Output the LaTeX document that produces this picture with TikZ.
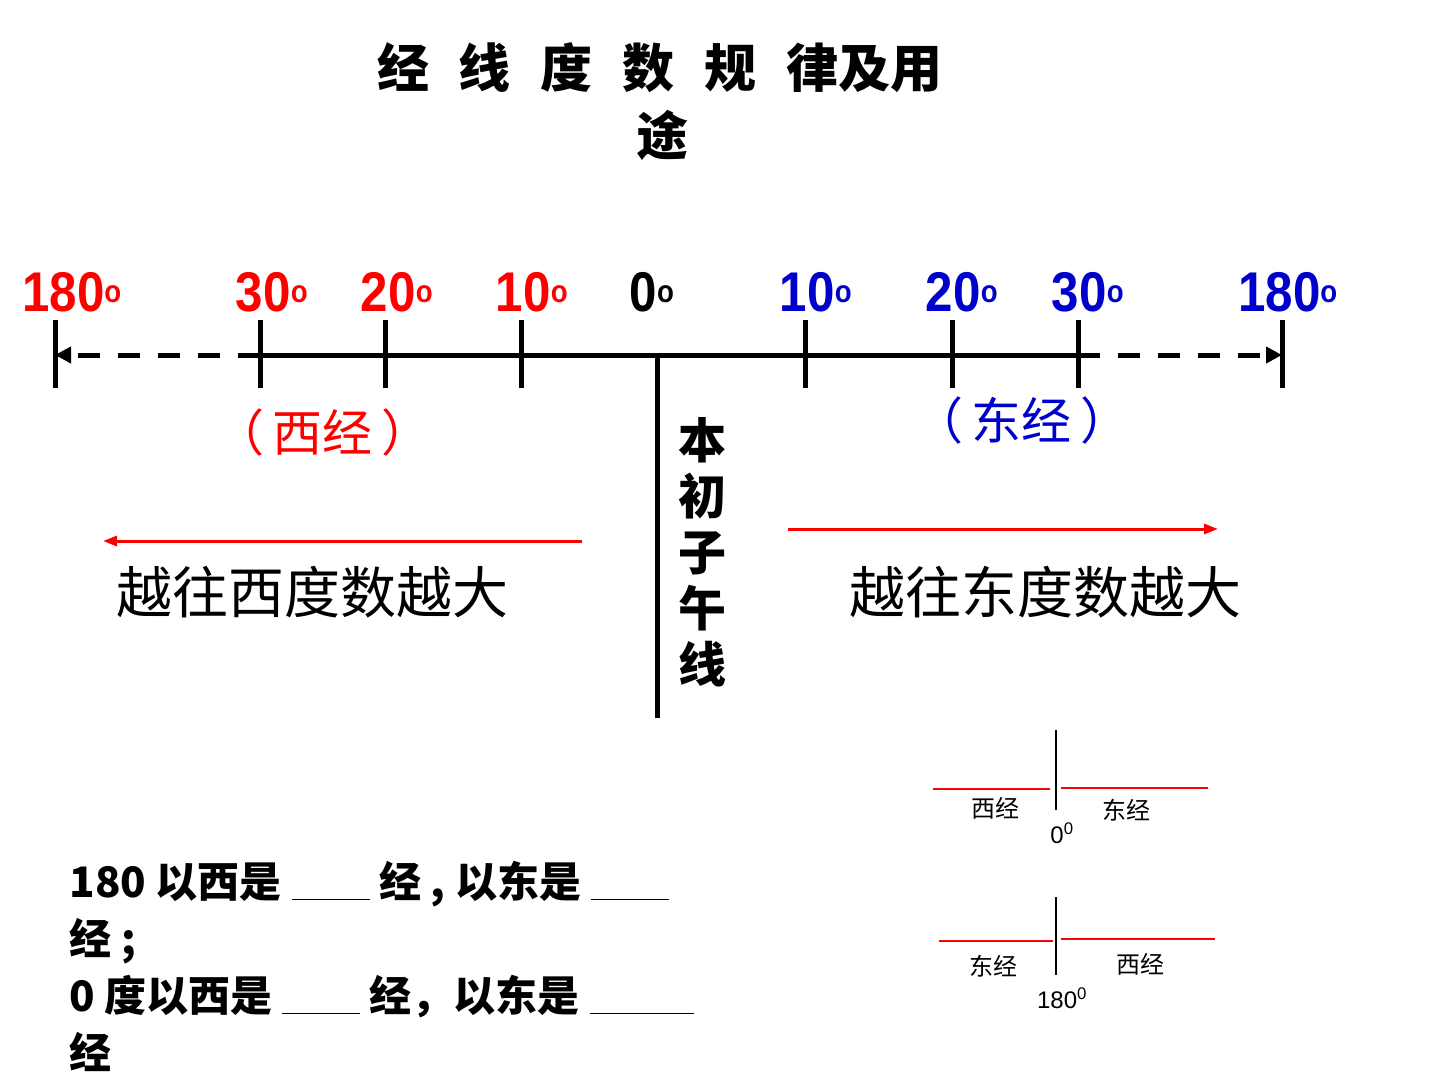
\documentclass[tikz,border=0pt]{standalone}
\usepackage{fontspec}
\setmainfont{Liberation Sans}
\newfontfamily\cjk{Noto Sans CJK SC}
\newcommand{\cjkb}{\cjk\bfseries}
\usetikzlibrary{arrows.meta}

\newcommand{\degmark}{\textsuperscript{\scalebox{0.8}{o}}}
\newcommand{\blank}[1]{\underline{\hspace{#1}}}

\begin{document}
\begin{tikzpicture}[x=1pt,y=-1pt,
axis_line/.style={line width=5pt, black},
tick/.style={line width=5pt, black},
dash_arrow/.style={line width=5pt, dash pattern=on 22pt off 18pt, -{Triangle[length=16pt,width=16pt]}},
red_arrow/.style={line width=3pt, red, -{Triangle[length=14pt,width=10pt]}},
west_num/.style={font=\fontsize{56}{56}\selectfont\bfseries, text=red, xscale=0.88},
east_num/.style={font=\fontsize{56}{56}\selectfont\bfseries, text=blue!80!black, xscale=0.88},
big_text/.style={font=\fontsize{50}{50}\selectfont\cjk},
rule_text/.style={font=\fontsize{56}{56}\selectfont\cjk},
small_line/.style={line width=1.2pt, red},
small_text/.style={font=\fontsize{24}{24}\selectfont\cjk},
quiz_text/.style={font=\fontsize{42}{57}\selectfont\cjkb, anchor=north west, align=left}
]
\useasboundingbox (0,0) rectangle (1440,1080);

% title
\node[font=\fontsize{52}{52}\selectfont\cjkb](title_one) at (660,68) {经\hspace{30pt}线\hspace{30pt}度\hspace{30pt}数\hspace{30pt}规\hspace{30pt}律及用};
\node[font=\fontsize{52}{52}\selectfont\cjkb](title_two) at (662,135) {途};

% axis points
\foreach \name/\x in {w180/55, w30/260, w20/385, w10/521, e10/805, e20/952, e30/1078, e180/1282}{
  \coordinate (\name_top) at (\x,320);
  \coordinate (\name_bot) at (\x,388);
  \coordinate (\name) at (\x,355);
  \draw[tick] (\name_top) -- (\name_bot);
}
\coordinate (zero) at (657,355);
\coordinate (zero_bot) at (657,718);

\draw[axis_line] (w30) -- (e30);
\draw[axis_line] (zero) -- (zero_bot);
\draw[dash_arrow] (w30) -- (w180);
\draw[dash_arrow] (e30) -- (e180);

% degree labels
\node[west_num](lab_w180) at (72,292) {180\degmark};
\node[west_num](lab_w30) at (272,292) {30\degmark};
\node[west_num](lab_w20) at (397,292) {20\degmark};
\node[west_num](lab_w10) at (532,292) {10\degmark};
\node[west_num, text=black](lab_zero) at (652,292) {0\degmark};
\node[east_num](lab_e10) at (816,292) {10\degmark};
\node[east_num](lab_e20) at (962,292) {20\degmark};
\node[east_num](lab_e30) at (1088,292) {30\degmark};
\node[east_num](lab_e180) at (1288,292) {180\degmark};

\node[big_text, text=red](west_name) at (323,432) {（\,西经\,）};
\node[big_text, text=blue!80!black](east_name) at (1022,420) {（\,东经\,）};

% prime meridian
\node[font=\fontsize{48}{56}\selectfont\cjkb, align=center](prime) at (702,552) {本\\初\\子\\午\\线};

% direction arrows
\coordinate (west_start) at (582,541);
\coordinate (west_end) at (103,541);
\coordinate (east_start) at (788,529);
\coordinate (east_end) at (1218,529);
\draw[red_arrow] (west_start) -- (west_end);
\draw[red_arrow] (east_start) -- (east_end);
\node[rule_text](west_rule) at (312,592) {越往西度数越大};
\node[rule_text](east_rule) at (1045,592) {越往东度数越大};

% small diagram 0 degree
\coordinate (s1_top) at (1056,730);
\coordinate (s1_bot) at (1056,810);
\draw[line width=1.5pt] (s1_top) -- (s1_bot);
\coordinate (s1_a) at (933,789); \coordinate (s1_b) at (1050,789);
\coordinate (s1_c) at (1061,788); \coordinate (s1_d) at (1208,788);
\draw[small_line] (s1_a) -- (s1_b);
\draw[small_line] (s1_c) -- (s1_d);
\node[small_text](s1_west) at (995,808) {西经};
\node[small_text](s1_east) at (1126,810) {东经};
\node[font=\fontsize{24}{24}\selectfont](s1_deg) at (1062,833) {0\textsuperscript{0}};

% small diagram 180 degree
\coordinate (s2_top) at (1056,897);
\coordinate (s2_bot) at (1056,975);
\draw[line width=1.5pt] (s2_top) -- (s2_bot);
\coordinate (s2_a) at (939,941); \coordinate (s2_b) at (1053,941);
\coordinate (s2_c) at (1061,939); \coordinate (s2_d) at (1215,939);
\draw[small_line] (s2_a) -- (s2_b);
\draw[small_line] (s2_c) -- (s2_d);
\node[small_text](s2_east) at (993,966) {东经};
\node[small_text](s2_west) at (1140,964) {西经};
\node[font=\fontsize{24}{24}\selectfont](s2_deg) at (1062,998) {180\textsuperscript{0}};

% questions
\node[quiz_text](quiz) at (66,858) {180 以西是 \blank{78pt} 经 , 以东是 \blank{78pt}\\经 ;\\0 度以西是 \blank{78pt} 经，以东是 \blank{104pt}\\经};
\end{tikzpicture}
\end{document}
